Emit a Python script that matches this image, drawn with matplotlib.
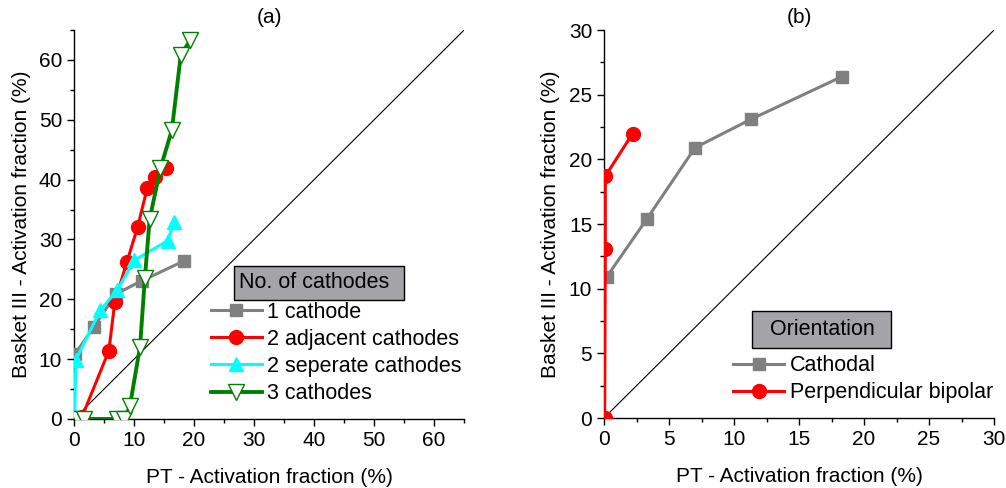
import matplotlib
matplotlib.use("Agg")
import matplotlib.pyplot as plt
from matplotlib.patches import Rectangle
from matplotlib.ticker import MultipleLocator

plt.rcParams["font.family"] = ["Liberation Sans", "DejaVu Sans"]

# panel (a): number of cathodes
one_x = [0.2, 3.3, 7.0, 11.3, 18.3]
one_y = [10.9, 15.4, 20.9, 23.1, 26.4]
adj_x = [0.4, 1.3, 5.8, 6.8, 8.8, 10.6, 12.2, 13.5, 15.4]
adj_y = [0.0, 0.3, 11.4, 19.6, 26.2, 32.1, 38.6, 40.4, 42.0]
sep_x = [0.1, 0.3, 4.4, 7.2, 10.0, 15.6, 16.7]
sep_y = [0.0, 9.9, 18.2, 21.5, 26.5, 29.8, 33.0]
three_x = [0.6, 1.6, 7.2, 8.4, 9.3, 11.0, 11.8, 12.6, 14.4, 16.3, 17.8, 19.4]
three_y = [0.0, 0.0, 0.0, 0.0, 2.1, 12.1, 23.5, 33.4, 41.9, 48.3, 60.9, 63.3]

# panel (b): orientation
cath_x = [0.2, 3.3, 7.0, 11.3, 18.3]
cath_y = [10.9, 15.4, 20.9, 23.1, 26.4]
perp_x = [0.05, 0.1, 0.1, 2.2]
perp_y = [0.0, 13.1, 18.7, 22.0]

FS = 15
LFS = 15.5
BOX_GRAY = "#a4a4a8"


def style_axes(ax, lim, major, minor):
    ax.set_xlim(0, lim)
    ax.set_ylim(0, lim)
    ax.spines["top"].set_visible(False)
    ax.spines["right"].set_visible(False)
    for s in ("left", "bottom"):
        ax.spines[s].set_linewidth(1.0)
    ax.xaxis.set_major_locator(MultipleLocator(major))
    ax.yaxis.set_major_locator(MultipleLocator(major))
    ax.xaxis.set_minor_locator(MultipleLocator(minor))
    ax.yaxis.set_minor_locator(MultipleLocator(minor))
    ax.tick_params(which="major", direction="out", length=5, width=1.0, labelsize=FS)
    ax.tick_params(which="minor", direction="out", length=3, width=1.0)
    ax.plot([0, lim], [0, lim], color="black", linewidth=0.8, zorder=1)
    ax.set_xlabel("PT - Activation fraction (%)", fontsize=FS, labelpad=13)
    ax.set_ylabel("Basket III - Activation fraction (%)", fontsize=FS, labelpad=6)


def title_box(ax, rect, text_xy, text, ha):
    x0, y0, x1, y1 = rect
    ax.add_patch(Rectangle((x0, y0), x1 - x0, y1 - y0, transform=ax.transAxes,
                           facecolor=BOX_GRAY, edgecolor="black", linewidth=1.0,
                           zorder=5, clip_on=False))
    ax.text(text_xy[0], text_xy[1], text, transform=ax.transAxes, ha=ha,
            va="center", fontsize=LFS, zorder=6)


fig = plt.figure(figsize=(10.06, 4.88), dpi=100)
ax_a = fig.add_axes([0.0736, 0.1414, 0.3877, 0.797])
ax_b = fig.add_axes([0.6004, 0.1434, 0.3877, 0.795])

style_axes(ax_a, 65, 10, 5)
ax_a.plot(one_x, one_y, "-s", color="#808080", linewidth=2.2, markersize=9,
          label="1 cathode", zorder=3)
ax_a.plot(adj_x, adj_y, "-o", color="#ff0000", linewidth=2.2, markersize=10,
          label="2 adjacent cathodes", zorder=3)
ax_a.plot(sep_x, sep_y, "-^", color="#00ffff", linewidth=2.2, markersize=10,
          label="2 seperate cathodes", zorder=3)
ax_a.plot(three_x, three_y, "-v", color="#008000", linewidth=2.8, markersize=11,
          markerfacecolor="white", markeredgecolor="#008000", markeredgewidth=1.0,
          label="3 cathodes", zorder=4)
ax_a.set_title("(a)", fontsize=FS, pad=5)
ax_a.legend(loc="upper left", bbox_to_anchor=(0.351, 0.302), frameon=False,
            fontsize=LFS, handlelength=2.37, handletextpad=0.25, labelspacing=0.29,
            borderpad=0, borderaxespad=0)
title_box(ax_a, (0.410, 0.306, 0.846, 0.393), (0.423, 0.350), "No. of cathodes", "left")

style_axes(ax_b, 30, 5, 2.5)
ax_b.plot(cath_x, cath_y, "-s", color="#808080", linewidth=2.2, markersize=9,
          label="Cathodal", zorder=3)
ax_b.plot(perp_x, perp_y, "-o", color="#ff0000", linewidth=2.2, markersize=10,
          label="Perpendicular bipolar", zorder=3)
ax_b.set_title("(b)", fontsize=FS, pad=5)
ax_b.legend(loc="upper left", bbox_to_anchor=(0.331, 0.162), frameon=False,
            fontsize=LFS, handlelength=2.37, handletextpad=0.25, labelspacing=0.29,
            borderpad=0, borderaxespad=0)
title_box(ax_b, (0.379, 0.180, 0.736, 0.276), (0.559, 0.228), "Orientation", "center")

fig.savefig("out.png", dpi=100)
